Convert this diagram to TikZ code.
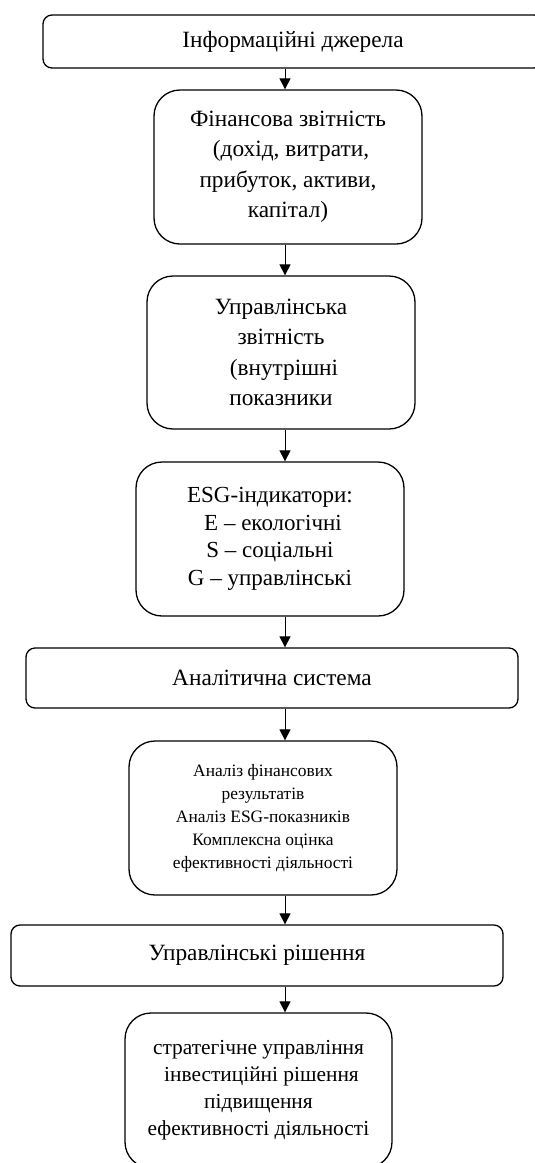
\documentclass[tikz,border=0pt]{standalone}
\usepackage{fontspec}
\setmainfont{Liberation Serif}
\usetikzlibrary{arrows.meta,calc}
\tikzset{
  box/.style={draw=black, line width=1.3pt, fill=white, align=center, inner sep=0pt, anchor=center},
  widebox/.style={box, rounded corners=9pt},
  tallbox/.style={box, rounded corners=26pt},
  bigtext/.style={font=\fontsize{23.3}{30.5}\selectfont},
  esgtext/.style={font=\fontsize{23}{27.5}\selectfont},
  midtext/.style={font=\fontsize{21.4}{27}\selectfont},
  smalltext/.style={font=\fontsize{17.4}{23}\selectfont},
  arr/.style={line width=1pt, -{Triangle[width=11pt,length=11pt]}}
}
\newcommand{\lead}{\hspace*{6pt}}
\begin{document}
\begin{tikzpicture}[x=1pt,y=1pt]
\useasboundingbox[fill=white] (0,0) rectangle (535,-1163);
\coordinate (ax) at (285,0);
\node[widebox, bigtext, minimum width=500pt, minimum height=53pt] (b1) at (293,-41.5) {Інформаційні джерела};
\node[tallbox, bigtext, minimum width=268pt, minimum height=154pt] (b2) at (288,-167) {Фінансова звітність\\\lead(дохід, витрати,\\прибуток, активи,\\капітал)};
\node[tallbox, bigtext, minimum width=268pt, minimum height=153pt] (b3) at (281,-352.5) {Управлінська\\звітність\\\lead(внутрішні\\показники};
\node[tallbox, esgtext, minimum width=268pt, minimum height=154pt] (b4) at (270,-539) {ESG-індикатори:\\\lead E – екологічні\\S – соціальні\\G – управлінські};
\node[widebox, bigtext, minimum width=492pt, minimum height=60pt] (b5) at (272,-678) {Аналітична система};
\node[tallbox, smalltext, minimum width=268pt, minimum height=154pt] (b6) at (263,-818) {Аналіз фінансових\\результатів\\Аналіз ESG-показників\\Комплексна оцінка\\ефективності діяльності};
\node[widebox, bigtext, minimum width=492pt, minimum height=61pt] (b7) at (257,-955.5) {Управлінські рішення};
\node[tallbox, midtext, minimum width=267pt, minimum height=155pt] (b8) at (258.5,-1090.5) {стратегічне управління\\\lead інвестиційні рішення\\підвищення\\ефективності діяльності};
\draw[arr] (b1.south -| ax) -- (b2.north -| ax);
\draw[arr] (b2.south -| ax) -- (b3.north -| ax);
\draw[arr] (b3.south -| ax) -- (b4.north -| ax);
\draw[arr] (b4.south -| ax) -- (b5.north -| ax);
\draw[arr] (b5.south -| ax) -- (b6.north -| ax);
\draw[arr] (b6.south -| ax) -- (b7.north -| ax);
\draw[arr] (b7.south -| ax) -- (b8.north -| ax);
\end{tikzpicture}
\end{document}
